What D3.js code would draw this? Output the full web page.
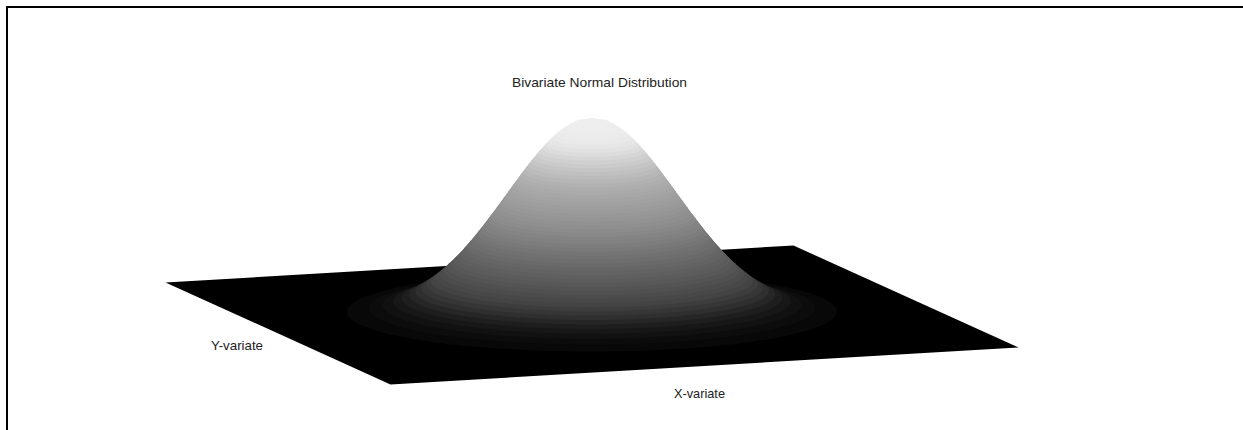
<!DOCTYPE html>
<html>
<head>
<meta charset="utf-8">
<script src="https://cdn.jsdelivr.net/npm/d3@7"></script>
<style>
    html, body { margin: 0; padding: 0; background: #fff; overflow: hidden; }
    text { font-family: "Liberation Sans", Arial, sans-serif; fill: #222; }
</style>
</head>
<body>
<div id="chart"></div>
<script>
const titleText = 'Bivariate Normal Distribution';
const xLabel = 'X-variate';
const yLabel = 'Y-variate';

// extent of both variates on the floor of the plot
const variateExtent = [-4, 4];

const contourRadius = [
    2.939, 2.677, 2.511, 2.385, 2.284, 2.197, 2.121, 2.053, 1.991, 1.934,
    1.881, 1.831, 1.784, 1.739, 1.696, 1.656, 1.616, 1.578, 1.541, 1.505,
    1.470, 1.436, 1.403, 1.370, 1.338, 1.307, 1.276, 1.245, 1.215, 1.184,
    1.154, 1.125, 1.095, 1.066, 1.037, 1.007, 0.978, 0.949, 0.919, 0.889,
    0.859, 0.829, 0.798, 0.767, 0.735, 0.702, 0.669, 0.635, 0.599, 0.562,
    0.523, 0.483, 0.438, 0.390, 0.336, 0.274, 0.193, 0
];

// density at each contour
const contourDensity = [
    0.0027, 0.0055, 0.0082, 0.0110, 0.0137, 0.0164, 0.0192, 0.0219, 0.0247, 0.0274,
    0.0302, 0.0329, 0.0356, 0.0384, 0.0411, 0.0439, 0.0466, 0.0493, 0.0521, 0.0548,
    0.0576, 0.0603, 0.0631, 0.0658, 0.0685, 0.0713, 0.0740, 0.0768, 0.0795, 0.0822,
    0.0850, 0.0877, 0.0905, 0.0932, 0.0959, 0.0987, 0.1014, 0.1042, 0.1069, 0.1096,
    0.1124, 0.1151, 0.1179, 0.1206, 0.1234, 0.1261, 0.1288, 0.1316, 0.1343, 0.1371,
    0.1398, 0.1425, 0.1453, 0.1480, 0.1508, 0.1535, 0.1562, 0.1590
];

// grey shade of each contour band
const contourGrey = [
    8, 12, 17, 23, 30, 38, 47, 54, 61, 68,
    72, 76, 80, 84, 88, 92, 95, 99, 102, 106,
    110, 113, 117, 121, 125, 129, 132, 136, 140, 143,
    146, 149, 152, 155, 158, 161, 164, 167, 170, 173,
    177, 182, 187, 192, 197, 203, 208, 214, 220, 226,
    230, 233, 235, 236, 237, 238, 238, 238
];

// where each label starts and how wide it runs
const labelStart = [512, 211, 674];
const labelBaseline = [87, 350, 398];
const labelWidth = [175, 52, 51];

class HillChart {


    constructor() {

        this._width = 1243;
        this._height = 430;
        this._center = { x: 592, y: 315 };
    }


    renderTo(selector) {

        this._svg = d3.select(selector)
            .append('svg')
            .attr('width', this._width)
            .attr('height', this._height);

        // floor axes are a rotated square, so each variate moves both screen x and y
        this._xOnScreenX = d3.scaleLinear().domain(variateExtent).range([-314, 314]);
        this._xOnScreenY = d3.scaleLinear().domain(variateExtent).range([18.5, -18.5]);
        this._yOnScreenX = d3.scaleLinear().domain(variateExtent).range([112.5, -112.5]);
        this._yOnScreenY = d3.scaleLinear().domain(variateExtent).range([51, -51]);
        this._densityOnScreen = d3.scaleLinear().domain([0, 0.159]).range([0, 197]);

        this._drawFrame();
        this._drawFloor();
        this._drawHill();
        this._drawLabels();

        return this;
    }


    _project(x, y, density) {

        return [
            this._center.x + this._xOnScreenX(x) + this._yOnScreenX(y),
            this._center.y + this._xOnScreenY(x) + this._yOnScreenY(y) - this._densityOnScreen(density)
        ];
    }


    _drawFrame() {

        this._svg.append('path')
            .attr('d', 'M7,' + this._height + 'V7H' + this._width)
            .attr('fill', 'none')
            .attr('stroke', '#000')
            .attr('stroke-width', 2);
    }


    _drawFloor() {

        const [lo, hi] = variateExtent;
        const corners = [[lo, lo], [hi, lo], [hi, hi], [lo, hi]]
            .map(c => this._project(c[0], c[1], 0));

        this._svg.append('path')
            .attr('d', d3.line().curve(d3.curveLinearClosed)(corners))
            .attr('fill', '#000');
    }


    _contourRing(radius, density) {

        return d3.range(0, 2 * Math.PI, Math.PI / 90).map(a =>
            this._project(radius * Math.cos(a), radius * Math.sin(a), density));
    }


    /*
     * Painted from the lowest band upwards, each one hides what is behind it.
     */
    _drawHill() {

        const bands = contourRadius.map((r, i) => {
            const ring = this._contourRing(r, contourDensity[i]);
            const next = i + 1 < contourRadius.length
                ? this._contourRing(contourRadius[i + 1], contourDensity[i + 1])
                : [];
            return { hull: d3.polygonHull(ring.concat(next)), grey: contourGrey[i] };
        });

        const line = d3.line().curve(d3.curveLinearClosed);

        this._svg.append('g')
            .selectAll('path')
            .data(bands)
            .join('path')
            .attr('d', d => line(d.hull))
            .attr('fill', d => d3.rgb(d.grey, d.grey, d.grey));
    }


    _drawLabels() {

        const labels = [titleText, yLabel, xLabel].map((text, i) => ({
            text: text,
            x: labelStart[i],
            y: labelBaseline[i],
            width: labelWidth[i]
        }));

        this._svg.selectAll('text')
            .data(labels)
            .join('text')
            .attr('x', d => d.x)
            .attr('y', d => d.y)
            .attr('font-size', 13.5)
            .attr('textLength', d => d.width)
            .attr('lengthAdjust', 'spacingAndGlyphs')
            .text(d => d.text);
    }
}

new HillChart().renderTo('#chart');
</script>
</body>
</html>
